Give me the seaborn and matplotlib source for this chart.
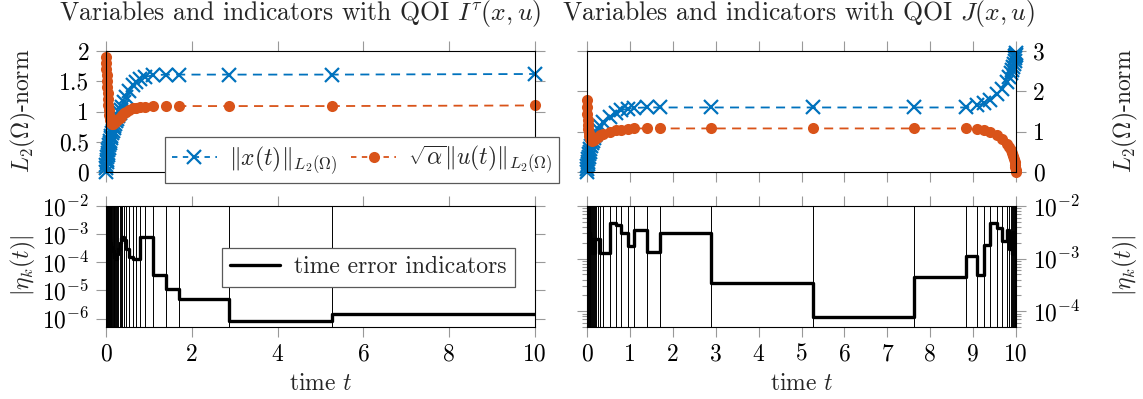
import numpy as np
import matplotlib
matplotlib.use("Agg")
import matplotlib.pyplot as plt
import seaborn as sns
from matplotlib.lines import Line2D

# ---------------- data ----------------
# QOI I^tau : time grid nodes
t_I = [0, 0.005, 0.01, 0.016, 0.022, 0.029, 0.036, 0.044, 0.053, 0.063, 0.074,
       0.086, 0.099, 0.113, 0.128, 0.144, 0.161, 0.179, 0.198, 0.218, 0.24,
       0.263, 0.288, 0.315, 0.345, 0.38, 0.42, 0.47, 0.54, 0.62, 0.7, 0.79,
       0.9, 1.1, 1.41, 1.7, 2.87, 5.27, 10]
x_norm_I = [0, 0.06, 0.11, 0.16, 0.2, 0.24, 0.28, 0.32, 0.36, 0.4, 0.44, 0.48,
            0.52, 0.56, 0.6, 0.64, 0.68, 0.72, 0.76, 0.8, 0.84, 0.88, 0.92,
            0.97, 1.02, 1.08, 1.15, 1.24, 1.34, 1.43, 1.49, 1.54, 1.57, 1.6,
            1.61, 1.61, 1.61, 1.61, 1.62]
u_norm_I = [1.9, 1.8, 1.7, 1.6, 1.5, 1.4, 1.3, 1.2, 1.1, 1.02, 0.95, 0.9, 0.86,
            0.83, 0.81, 0.8, 0.8, 0.81, 0.82, 0.83, 0.84, 0.86, 0.87, 0.89,
            0.91, 0.94, 0.97, 1.0, 1.03, 1.05, 1.06, 1.07, 1.08, 1.09, 1.09,
            1.09, 1.09, 1.09, 1.1]
eta_I = [8e-4, 9e-4, 8e-4, 9e-4, 8e-4, 9e-4, 8e-4, 8e-4, 7e-4, 8e-4, 7e-4,
         6e-4, 5e-4, 4e-4, 3.5e-4, 3e-4, 2.5e-4, 2e-4, 1.6e-4, 1.4e-4, 1.3e-4,
         2e-4, 3e-4, 5e-4, 7e-4, 8e-4, 6e-4, 3e-4, 1.5e-4, 1.3e-4, 1.3e-4,
         8e-4, 8e-4, 3.4e-5, 1.15e-5, 4.8e-6, 8e-7, 1.5e-6]

# QOI J : time grid nodes
t_J = [0, 0.005, 0.01, 0.016, 0.023, 0.031, 0.04, 0.05, 0.062, 0.076, 0.092,
       0.11, 0.13, 0.155, 0.185, 0.22, 0.26, 0.3, 0.38, 0.53, 0.67, 0.8, 0.95,
       1.09, 1.41, 1.7, 2.88, 5.27, 7.62, 8.83, 9.1, 9.26, 9.4, 9.55, 9.67,
       9.78, 9.84, 9.88, 9.91, 9.935, 9.955, 9.97, 9.98, 9.988, 9.994, 10]
x_norm_J = [0, 0.08, 0.14, 0.2, 0.26, 0.32, 0.38, 0.44, 0.5, 0.57, 0.64, 0.72,
            0.78, 0.84, 0.92, 1.0, 1.07, 1.13, 1.24, 1.37, 1.47, 1.53, 1.57,
            1.59, 1.6, 1.6, 1.6, 1.6, 1.6, 1.6, 1.65, 1.71, 1.79, 1.93, 2.06,
            2.22, 2.35, 2.45, 2.53, 2.61, 2.69, 2.76, 2.82, 2.87, 2.91, 2.95]
u_norm_J = [1.78, 1.6, 1.45, 1.3, 1.17, 1.06, 0.97, 0.9, 0.85, 0.81, 0.79,
            0.78, 0.79, 0.8, 0.82, 0.85, 0.88, 0.91, 0.95, 1.0, 1.03, 1.05,
            1.07, 1.08, 1.08, 1.08, 1.08, 1.08, 1.08, 1.08, 1.07, 1.05, 1.0,
            0.92, 0.82, 0.7, 0.61, 0.54, 0.47, 0.4, 0.32, 0.25, 0.18, 0.12,
            0.06, 0.0]
eta_J = [3e-3, 3.8e-3, 1.3e-3, 3.5e-3, 1.3e-3, 3.8e-3, 2e-3, 1.3e-3, 3e-3,
         2.4e-3, 2.4e-3, 2.4e-3, 1.3e-3, 1.3e-3, 2.4e-3, 2.4e-3, 2.4e-3,
         1.25e-3, 1.25e-3, 4.7e-3, 4.4e-3, 3e-3, 1.7e-3, 3.5e-3, 1.35e-3,
         3.1e-3, 3.4e-4, 7.8e-5, 4.4e-4, 1.1e-3, 4.9e-4, 1.85e-3, 4.7e-3,
         3.8e-3, 2.2e-3, 3.5e-3, 1.5e-3, 3e-3, 1.2e-3, 3.2e-3, 1.5e-3, 2.8e-3,
         1.6e-3, 3e-3, 2.2e-3]

titles = [r"Variables and indicators with QOI $I^\tau(x,u)$",
          r"Variables and indicators with QOI $J(x,u)$"]
label_x = r"$\Vert x(t)\Vert_{L_2(\Omega)}$"
label_u = r"$\sqrt{\alpha}\Vert u(t)\Vert_{L_2(\Omega)}$"
label_eta = "time error indicators"

# ---------------- style ----------------
sns.set_theme(style="ticks")
plt.rcParams.update({
    "font.family": ["cmr10"],
    "mathtext.fontset": "cm",
    "axes.formatter.use_mathtext": True,
    "font.size": 17,
    "axes.linewidth": 0.8,
    "axes.edgecolor": "black",
})

BLUE = "#0072BD"
ORANGE = "#D95319"
FS = 17
FS_TITLE = 18.5

W, H = 1143, 399
fig = plt.figure(figsize=(W / 100, H / 100), dpi=100)


def rect(x0, x1, ytop, ybot):
    return [x0 / W, 1 - ybot / H, (x1 - x0) / W, (ybot - ytop) / H]


ax_tl = fig.add_axes(rect(106, 535, 51, 172))
ax_bl = fig.add_axes(rect(106, 535, 206, 327))
ax_tr = fig.add_axes(rect(587, 1016, 51, 172))
ax_br = fig.add_axes(rect(587, 1016, 206, 327))


def style_ticks(ax):
    ax.tick_params(which="both", direction="out", color="0.6", width=0.8,
                   top=True, right=True, bottom=True, left=True,
                   labelsize=FS, labelcolor="black")
    ax.tick_params(which="major", length=7, pad=5)
    ax.tick_params(which="minor", length=3.5)
    for s in ax.spines.values():
        s.set_visible(True)
        s.set_color("black")
        s.set_linewidth(0.8)


def top_panel(ax, t, xv, uv):
    sns.lineplot(x=t, y=xv, ax=ax, color=BLUE, marker="x", markersize=10,
                 markeredgewidth=1.6, markeredgecolor=BLUE,
                 linestyle=(0, (5, 3.5)), linewidth=1.3, clip_on=False,
                 estimator=None, sort=False, label=label_x, legend=False)
    sns.lineplot(x=t, y=uv, ax=ax, color=ORANGE, marker="o", markersize=8,
                 markeredgewidth=0, markeredgecolor=ORANGE,
                 linestyle=(0, (5, 3.5)), linewidth=1.3, clip_on=False,
                 estimator=None, sort=False, label=label_u, legend=False)
    ax.set_xlim(0, 10)
    ax.set_xlabel("")
    ax.set_ylabel("")


def bottom_panel(ax, t, eta):
    ax.set_yscale("log")
    ax.vlines(t, 0, 1, transform=ax.get_xaxis_transform(), color="black",
              linewidth=0.7, zorder=1)
    sns.lineplot(x=t, y=list(eta) + [eta[-1]], ax=ax, color="black",
                 drawstyle="steps-post", linewidth=2.4, estimator=None,
                 sort=False, label=label_eta, legend=False, zorder=3)
    ax.set_xlim(0, 10)
    ax.set_xlabel("")
    ax.set_ylabel("")


top_panel(ax_tl, t_I, x_norm_I, u_norm_I)
top_panel(ax_tr, t_J, x_norm_J, u_norm_J)
bottom_panel(ax_bl, t_I, eta_I)
bottom_panel(ax_br, t_J, eta_J)

# left column
ax_tl.set_ylim(0, 2)
ax_tl.set_yticks([0, 0.5, 1, 1.5, 2])
ax_tl.set_yticklabels(["0", "0.5", "1", "1.5", "2"])
ax_tl.set_xticks(range(0, 11, 2))
ax_tl.set_xticklabels([])
ax_bl.set_ylim(5e-7, 1e-2)
ax_bl.set_yticks([1e-6, 1e-5, 1e-4, 1e-3, 1e-2])
ax_bl.set_xticks(range(0, 11, 2))
ax_bl.set_xticklabels([str(v) for v in range(0, 11, 2)])

# right column
ax_tr.set_ylim(0, 3)
ax_tr.set_yticks([0, 1, 2, 3])
ax_tr.set_yticklabels(["0", "1", "2", "3"])
ax_tr.set_xticks(range(0, 11))
ax_tr.set_xticklabels([])
ax_br.set_ylim(5e-5, 1e-2)
ax_br.set_yticks([1e-4, 1e-3, 1e-2])
ax_br.set_xticks(range(0, 11))
ax_br.set_xticklabels([str(v) for v in range(0, 11)])

for ax in (ax_tl, ax_bl, ax_tr, ax_br):
    style_ticks(ax)
for ax in (ax_tr, ax_br):
    ax.tick_params(labelleft=False, labelright=True)
for ax in (ax_tl, ax_bl):
    ax.tick_params(labelleft=True, labelright=False)
for ax in (ax_tl, ax_tr):
    ax.tick_params(labelbottom=False)

# legends
h1 = Line2D([], [], color=BLUE, marker="x", markersize=10, markeredgewidth=1.6,
            linestyle=(0, (3, 3)), linewidth=1.3)
h2 = Line2D([], [], color=ORANGE, marker="o", markersize=8, markeredgewidth=0,
            linestyle=(0, (3, 3)), linewidth=1.3)
leg = ax_tl.legend([h1, h2], [label_x, label_u], ncol=2, loc="center",
                   bbox_to_anchor=(0.597, 0.099), fontsize=FS, frameon=True,
                   fancybox=False, edgecolor="0.35", framealpha=1,
                   handlelength=1.9, columnspacing=0.6, handletextpad=0.5,
                   borderpad=0.3, borderaxespad=0)
leg.get_frame().set_linewidth(0.9)
h3 = Line2D([], [], color="black", linewidth=2.4)
leg2 = ax_bl.legend([h3], [label_eta], loc="center",
                    bbox_to_anchor=(0.612, 0.494), fontsize=FS, frameon=True,
                    fancybox=False, edgecolor="0.35", framealpha=1,
                    handlelength=2.1, handletextpad=0.6, borderpad=0.35,
                    borderaxespad=0)
leg2.get_frame().set_linewidth(0.9)

# texts
fig.text(300 / W, 1 - 20 / H, titles[0], ha="center", va="baseline", fontsize=FS_TITLE)
fig.text(799 / W, 1 - 20 / H, titles[1], ha="center", va="baseline", fontsize=FS_TITLE)
fig.text(320.5 / W, 1 - 384 / H, r"time $t$", ha="center", va="center", fontsize=FS)
fig.text(801.5 / W, 1 - 384 / H, r"time $t$", ha="center", va="center", fontsize=FS)
ylab_norm = r"$L_2(\Omega)$-norm"
ylab_eta = r"$|\eta_k(t)|$"
fig.text(23 / W, 1 - 111 / H, ylab_norm, rotation=90, ha="center", va="center", fontsize=FS)
fig.text(23 / W, 1 - 266 / H, ylab_eta, rotation=90, ha="center", va="center", fontsize=FS)
fig.text(1125 / W, 1 - 111 / H, ylab_norm, rotation=90, ha="center", va="center", fontsize=FS)
fig.text(1125 / W, 1 - 266 / H, ylab_eta, rotation=90, ha="center", va="center", fontsize=FS)

fig.savefig("out.png", dpi=100)
